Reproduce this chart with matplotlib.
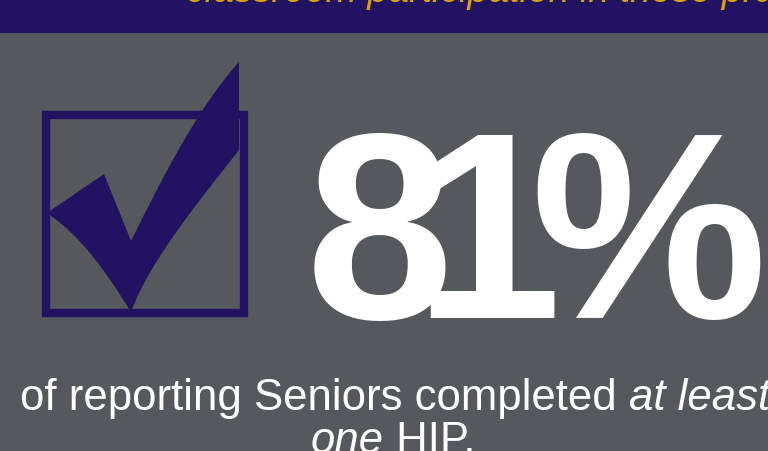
import matplotlib
matplotlib.use("Agg")
import numpy as np
import matplotlib.pyplot as plt
from matplotlib.path import Path
from matplotlib.patches import PathPatch, Rectangle

# ---- content ----
percent_value = 81
header_text = "classroom participation in these practices"
line1_normal = "of reporting Seniors completed "
line1_italic = "at least"
line2_italic = "one"
line2_normal = " HIP."

BG = "#55585d"
PURPLE = "#221262"
GOLD = "#d9a300"
WHITE = "#ffffff"
DPI = 100
BIG_FAMILY = "Liberation Sans"

fig = plt.figure(figsize=(7.68, 4.51), dpi=DPI)
fig.patch.set_facecolor(BG)
ax = fig.add_axes([0, 0, 1, 1])
ax.set_xlim(0, 768)
ax.set_ylim(451, 0)
ax.axis("off")
ax.set_facecolor(BG)

# header band
ax.add_patch(Rectangle((0, 0), 768, 33, facecolor=PURPLE, edgecolor="none", zorder=1))
ax.text(186, 2, header_text, color=GOLD, fontsize=27, style="italic",
        family=["Liberation Sans", "DejaVu Sans"], va="baseline", ha="left", zorder=2)

# check box
ax.add_patch(Rectangle((46, 115), 198, 198, facecolor="none", edgecolor=PURPLE,
                       linewidth=6, zorder=3))

# check mark
verts = [
    (47, 213),
    (104, 174),
    (131, 241),
    (165, 172), (200, 105), (239, 62),
    (239, 150),
    (200, 200), (150, 260), (131, 312),
    (105, 270), (80, 235), (47, 213),
    (47, 213),
]
codes = [Path.MOVETO, Path.LINETO, Path.LINETO,
         Path.CURVE4, Path.CURVE4, Path.CURVE4,
         Path.LINETO,
         Path.CURVE4, Path.CURVE4, Path.CURVE4,
         Path.CURVE4, Path.CURVE4, Path.CURVE4,
         Path.CLOSEPOLY]
ax.add_patch(PathPatch(Path(verts, codes), facecolor=PURPLE, edgecolor="none", zorder=4))

# big number: one glyph per text object, fitted to the reference glyph boxes
big_str = f"{percent_value}%"
ink_lefts = [315, 431, 538]
one_top, one_bottom = 135, 317
REGION = (40, 365)  # rows that contain only the big number's white ink

glyphs = [ax.text(300 + 100 * i, 300, ch, color=WHITE, fontsize=160, family=BIG_FAMILY,
                  fontweight="bold", va="baseline", ha="left", zorder=5)
          for i, ch in enumerate(big_str)]


def ink_of(only):
    for g in glyphs:
        g.set_visible(g is only)
    fig.canvas.draw()
    img = np.asarray(fig.canvas.buffer_rgba())
    sub = img[REGION[0]:REGION[1], :, :3].astype(int)
    mask = (sub[:, :, 0] > 200) & (sub[:, :, 1] > 200) & (sub[:, :, 2] > 200)
    ys, xs = np.nonzero(mask)
    for g in glyphs:
        g.set_visible(True)
    if len(xs) == 0:
        return None
    return xs.min(), xs.max(), ys.min() + REGION[0], ys.max() + REGION[0]


one = glyphs[1]
for _ in range(3):
    x0, x1, y0, y1 = ink_of(one)
    size = one.get_fontsize() * (one_bottom - one_top + 1) / (y1 - y0 + 1)
    for g in glyphs:
        g.set_fontsize(size)
    x0, x1, y0, y1 = ink_of(one)
    dy = one_bottom - y1
    for g in glyphs:
        g.set_y(g.get_position()[1] + dy)

for _ in range(2):
    for g, left in zip(glyphs, ink_lefts):
        box = ink_of(g)
        if box is not None:
            g.set_x(g.get_position()[0] + (left - box[0]))

# bottom caption with mixed styles
fam = ["Liberation Sans", "DejaVu Sans"]
fs = 31.5
fig.canvas.draw()
r = fig.canvas.get_renderer()
inv = ax.transData.inverted()


def width_of(t):
    bb = t.get_window_extent(renderer=r)
    (a0, _), (a1, _) = inv.transform([(bb.x0, 0), (bb.x1, 0)])
    return a1 - a0


t1 = ax.text(20, 410, line1_normal, color=WHITE, fontsize=fs, family=fam, va="baseline", ha="left")
w1 = width_of(t1)
ax.text(20 + w1, 410, line1_italic, color=WHITE, fontsize=fs, family=fam, style="italic",
        va="baseline", ha="left")

t2a = ax.text(0, 453, line2_italic, color=WHITE, fontsize=fs, family=fam, style="italic",
              va="baseline", ha="left")
t2b = ax.text(0, 453, line2_normal, color=WHITE, fontsize=fs, family=fam,
              va="baseline", ha="left")
wa = width_of(t2a)
wb = width_of(t2b)
start = 393 - (wa + wb) / 2
t2a.set_x(start)
t2b.set_x(start + wa)

fig.savefig("out.png", dpi=DPI, facecolor=BG)
